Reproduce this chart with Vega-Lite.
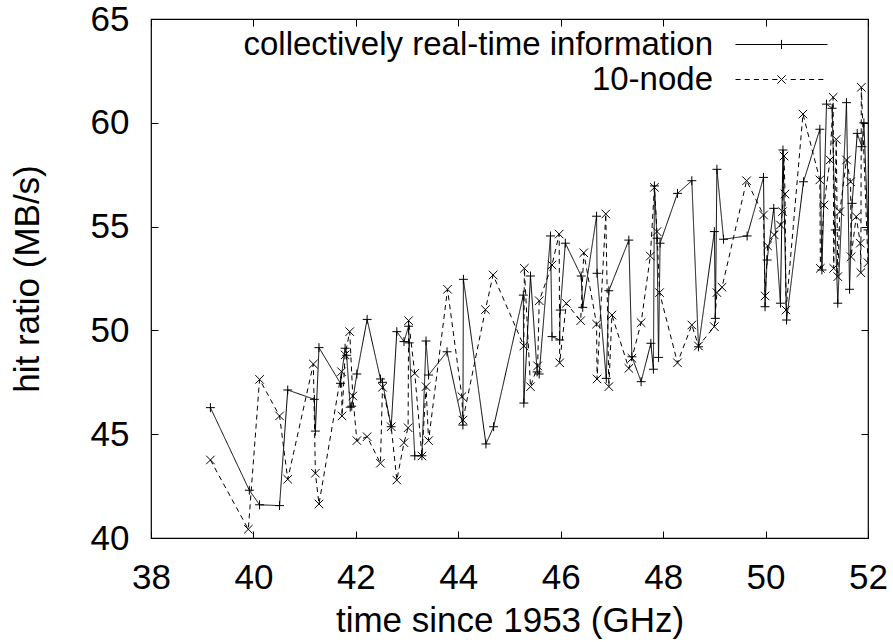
{
  "$schema": "https://vega.github.io/schema/vega-lite/v6.json",
  "autosize": "none",
  "width": 717,
  "height": 519,
  "padding": {"left": 151, "top": 19, "right": 25, "bottom": 104},
  "background": "white",
  "config": {
    "font": "Liberation Sans",
    "view": {"stroke": "black", "strokeWidth": 1.2},
    "axis": {"domain": false, "grid": false, "labelFont": "Liberation Sans", "labelFontSize": 35, "labelColor": "black", "titleFont": "Liberation Sans", "titleFontSize": 35, "titleFontWeight": "normal", "titleColor": "black", "tickColor": "black", "tickSize": 7, "tickWidth": 1, "offset": -7, "labelPadding": 22},
    "legend": {"title": null, "orient": "none", "padding": 0, "symbolSize": 8464, "symbolStrokeColor": "black", "symbolFillColor": "transparent", "symbolStrokeWidth": 1, "symbolOpacity": 1, "labelFont": "Liberation Sans", "labelFontSize": 33, "labelColor": "black", "labelAlign": "right", "labelOffset": -115, "labelLimit": 700}
  },
  "datasets": {
    "pts": [
      {"series": "collectively real-time information", "i": 1, "x": 39.16, "y": 46.28},
      {"series": "collectively real-time information", "i": 2, "x": 39.92, "y": 42.3},
      {"series": "collectively real-time information", "i": 3, "x": 40.12, "y": 41.6},
      {"series": "collectively real-time information", "i": 4, "x": 40.51, "y": 41.56},
      {"series": "collectively real-time information", "i": 5, "x": 40.67, "y": 47.13},
      {"series": "collectively real-time information", "i": 6, "x": 41.19, "y": 46.68},
      {"series": "collectively real-time information", "i": 7, "x": 41.21, "y": 45.15},
      {"series": "collectively real-time information", "i": 8, "x": 41.28, "y": 49.17},
      {"series": "collectively real-time information", "i": 9, "x": 41.7, "y": 47.45},
      {"series": "collectively real-time information", "i": 10, "x": 41.79, "y": 49.14},
      {"series": "collectively real-time information", "i": 11, "x": 41.82, "y": 48.8},
      {"series": "collectively real-time information", "i": 12, "x": 41.89, "y": 46.3},
      {"series": "collectively real-time information", "i": 13, "x": 41.92, "y": 46.35},
      {"series": "collectively real-time information", "i": 14, "x": 42.02, "y": 47.9},
      {"series": "collectively real-time information", "i": 15, "x": 42.22, "y": 50.53},
      {"series": "collectively real-time information", "i": 16, "x": 42.48, "y": 47.66},
      {"series": "collectively real-time information", "i": 17, "x": 42.52, "y": 47.5},
      {"series": "collectively real-time information", "i": 18, "x": 42.69, "y": 45.36},
      {"series": "collectively real-time information", "i": 19, "x": 42.8, "y": 49.94},
      {"series": "collectively real-time information", "i": 20, "x": 42.94, "y": 49.46},
      {"series": "collectively real-time information", "i": 21, "x": 43.03, "y": 50.2},
      {"series": "collectively real-time information", "i": 22, "x": 43.04, "y": 49.4},
      {"series": "collectively real-time information", "i": 23, "x": 43.15, "y": 43.96},
      {"series": "collectively real-time information", "i": 24, "x": 43.29, "y": 43.96},
      {"series": "collectively real-time information", "i": 25, "x": 43.37, "y": 49.49},
      {"series": "collectively real-time information", "i": 26, "x": 43.42, "y": 47.85},
      {"series": "collectively real-time information", "i": 27, "x": 43.78, "y": 48.97},
      {"series": "collectively real-time information", "i": 28, "x": 44.09, "y": 45.44},
      {"series": "collectively real-time information", "i": 29, "x": 44.1, "y": 52.46},
      {"series": "collectively real-time information", "i": 30, "x": 44.54, "y": 44.53},
      {"series": "collectively real-time information", "i": 31, "x": 44.69, "y": 45.36},
      {"series": "collectively real-time information", "i": 32, "x": 45.27, "y": 51.7},
      {"series": "collectively real-time information", "i": 33, "x": 45.28, "y": 46.5},
      {"series": "collectively real-time information", "i": 34, "x": 45.41, "y": 52.62},
      {"series": "collectively real-time information", "i": 35, "x": 45.54, "y": 48.0},
      {"series": "collectively real-time information", "i": 36, "x": 45.58, "y": 47.9},
      {"series": "collectively real-time information", "i": 37, "x": 45.8, "y": 54.55},
      {"series": "collectively real-time information", "i": 38, "x": 45.83, "y": 49.7},
      {"series": "collectively real-time information", "i": 39, "x": 45.98, "y": 49.54},
      {"series": "collectively real-time information", "i": 40, "x": 45.99, "y": 50.98},
      {"series": "collectively real-time information", "i": 41, "x": 46.09, "y": 54.2},
      {"series": "collectively real-time information", "i": 42, "x": 46.4, "y": 52.62},
      {"series": "collectively real-time information", "i": 43, "x": 46.43, "y": 51.11},
      {"series": "collectively real-time information", "i": 44, "x": 46.7, "y": 55.5},
      {"series": "collectively real-time information", "i": 45, "x": 46.71, "y": 52.75},
      {"series": "collectively real-time information", "i": 46, "x": 46.89, "y": 47.69},
      {"series": "collectively real-time information", "i": 47, "x": 46.94, "y": 51.91},
      {"series": "collectively real-time information", "i": 48, "x": 47.33, "y": 54.35},
      {"series": "collectively real-time information", "i": 49, "x": 47.39, "y": 48.73},
      {"series": "collectively real-time information", "i": 50, "x": 47.57, "y": 47.53},
      {"series": "collectively real-time information", "i": 51, "x": 47.76, "y": 49.38},
      {"series": "collectively real-time information", "i": 52, "x": 47.81, "y": 48.13},
      {"series": "collectively real-time information", "i": 53, "x": 47.83, "y": 56.96},
      {"series": "collectively real-time information", "i": 54, "x": 47.88, "y": 54.44},
      {"series": "collectively real-time information", "i": 55, "x": 47.91, "y": 48.7},
      {"series": "collectively real-time information", "i": 56, "x": 47.94, "y": 54.2},
      {"series": "collectively real-time information", "i": 57, "x": 48.28, "y": 56.6},
      {"series": "collectively real-time information", "i": 58, "x": 48.56, "y": 57.21},
      {"series": "collectively real-time information", "i": 59, "x": 48.69, "y": 49.21},
      {"series": "collectively real-time information", "i": 60, "x": 49.0, "y": 54.76},
      {"series": "collectively real-time information", "i": 61, "x": 49.02, "y": 50.58},
      {"series": "collectively real-time information", "i": 62, "x": 49.05, "y": 57.76},
      {"series": "collectively real-time information", "i": 63, "x": 49.18, "y": 54.39},
      {"series": "collectively real-time information", "i": 64, "x": 49.64, "y": 54.55},
      {"series": "collectively real-time information", "i": 65, "x": 49.96, "y": 57.37},
      {"series": "collectively real-time information", "i": 66, "x": 49.99, "y": 51.14},
      {"series": "collectively real-time information", "i": 67, "x": 50.03, "y": 53.39},
      {"series": "collectively real-time information", "i": 68, "x": 50.16, "y": 55.88},
      {"series": "collectively real-time information", "i": 69, "x": 50.29, "y": 51.31},
      {"series": "collectively real-time information", "i": 70, "x": 50.34, "y": 58.69},
      {"series": "collectively real-time information", "i": 71, "x": 50.41, "y": 50.5},
      {"series": "collectively real-time information", "i": 72, "x": 50.74, "y": 57.16},
      {"series": "collectively real-time information", "i": 73, "x": 51.06, "y": 59.69},
      {"series": "collectively real-time information", "i": 74, "x": 51.1, "y": 52.91},
      {"series": "collectively real-time information", "i": 75, "x": 51.19, "y": 60.9},
      {"series": "collectively real-time information", "i": 76, "x": 51.3, "y": 60.7},
      {"series": "collectively real-time information", "i": 77, "x": 51.36, "y": 54.84},
      {"series": "collectively real-time information", "i": 78, "x": 51.41, "y": 51.31},
      {"series": "collectively real-time information", "i": 79, "x": 51.58, "y": 60.97},
      {"series": "collectively real-time information", "i": 80, "x": 51.64, "y": 51.98},
      {"series": "collectively real-time information", "i": 81, "x": 51.69, "y": 56.12},
      {"series": "collectively real-time information", "i": 82, "x": 51.79, "y": 59.49},
      {"series": "collectively real-time information", "i": 83, "x": 51.88, "y": 58.85},
      {"series": "collectively real-time information", "i": 84, "x": 51.92, "y": 60.0},
      {"series": "collectively real-time information", "i": 85, "x": 52.0, "y": 54.84},
      {"series": "10-node", "i": 1, "x": 39.16, "y": 43.76},
      {"series": "10-node", "i": 2, "x": 39.9, "y": 40.42},
      {"series": "10-node", "i": 3, "x": 40.12, "y": 47.64},
      {"series": "10-node", "i": 4, "x": 40.51, "y": 45.88},
      {"series": "10-node", "i": 5, "x": 40.67, "y": 42.83},
      {"series": "10-node", "i": 6, "x": 41.17, "y": 48.38},
      {"series": "10-node", "i": 7, "x": 41.21, "y": 43.12},
      {"series": "10-node", "i": 8, "x": 41.28, "y": 41.64},
      {"series": "10-node", "i": 9, "x": 41.72, "y": 48.01},
      {"series": "10-node", "i": 10, "x": 41.73, "y": 45.88},
      {"series": "10-node", "i": 11, "x": 41.79, "y": 48.82},
      {"series": "10-node", "i": 12, "x": 41.88, "y": 49.94},
      {"series": "10-node", "i": 13, "x": 41.94, "y": 46.84},
      {"series": "10-node", "i": 14, "x": 42.02, "y": 44.69},
      {"series": "10-node", "i": 15, "x": 42.22, "y": 44.88},
      {"series": "10-node", "i": 16, "x": 42.48, "y": 43.6},
      {"series": "10-node", "i": 17, "x": 42.52, "y": 47.26},
      {"series": "10-node", "i": 18, "x": 42.69, "y": 45.36},
      {"series": "10-node", "i": 19, "x": 42.8, "y": 42.79},
      {"series": "10-node", "i": 20, "x": 42.94, "y": 44.59},
      {"series": "10-node", "i": 21, "x": 43.02, "y": 45.31},
      {"series": "10-node", "i": 22, "x": 43.03, "y": 50.47},
      {"series": "10-node", "i": 23, "x": 43.15, "y": 47.93},
      {"series": "10-node", "i": 24, "x": 43.29, "y": 43.95},
      {"series": "10-node", "i": 25, "x": 43.37, "y": 47.29},
      {"series": "10-node", "i": 26, "x": 43.42, "y": 44.69},
      {"series": "10-node", "i": 27, "x": 43.79, "y": 51.98},
      {"series": "10-node", "i": 28, "x": 44.07, "y": 46.81},
      {"series": "10-node", "i": 29, "x": 44.09, "y": 45.68},
      {"series": "10-node", "i": 30, "x": 44.53, "y": 51.0},
      {"series": "10-node", "i": 31, "x": 44.68, "y": 52.67},
      {"series": "10-node", "i": 32, "x": 45.28, "y": 49.25},
      {"series": "10-node", "i": 33, "x": 45.29, "y": 52.99},
      {"series": "10-node", "i": 34, "x": 45.41, "y": 47.29},
      {"series": "10-node", "i": 35, "x": 45.55, "y": 48.29},
      {"series": "10-node", "i": 36, "x": 45.58, "y": 51.43},
      {"series": "10-node", "i": 37, "x": 45.83, "y": 53.15},
      {"series": "10-node", "i": 38, "x": 45.97, "y": 54.64},
      {"series": "10-node", "i": 39, "x": 45.98, "y": 48.44},
      {"series": "10-node", "i": 40, "x": 46.11, "y": 51.3},
      {"series": "10-node", "i": 41, "x": 46.39, "y": 50.47},
      {"series": "10-node", "i": 42, "x": 46.45, "y": 53.74},
      {"series": "10-node", "i": 43, "x": 46.7, "y": 50.3},
      {"series": "10-node", "i": 44, "x": 46.71, "y": 47.66},
      {"series": "10-node", "i": 45, "x": 46.88, "y": 55.61},
      {"series": "10-node", "i": 46, "x": 46.94, "y": 47.29},
      {"series": "10-node", "i": 47, "x": 47.0, "y": 50.74},
      {"series": "10-node", "i": 48, "x": 47.33, "y": 48.17},
      {"series": "10-node", "i": 49, "x": 47.39, "y": 48.66},
      {"series": "10-node", "i": 50, "x": 47.57, "y": 50.37},
      {"series": "10-node", "i": 51, "x": 47.75, "y": 53.58},
      {"series": "10-node", "i": 52, "x": 47.83, "y": 56.89},
      {"series": "10-node", "i": 53, "x": 47.88, "y": 54.76},
      {"series": "10-node", "i": 54, "x": 47.93, "y": 51.82},
      {"series": "10-node", "i": 55, "x": 48.28, "y": 48.44},
      {"series": "10-node", "i": 56, "x": 48.56, "y": 50.26},
      {"series": "10-node", "i": 57, "x": 48.69, "y": 49.25},
      {"series": "10-node", "i": 58, "x": 49.0, "y": 50.18},
      {"series": "10-node", "i": 59, "x": 49.05, "y": 51.82},
      {"series": "10-node", "i": 60, "x": 49.15, "y": 52.08},
      {"series": "10-node", "i": 61, "x": 49.63, "y": 57.21},
      {"series": "10-node", "i": 62, "x": 49.96, "y": 55.56},
      {"series": "10-node", "i": 63, "x": 49.99, "y": 51.66},
      {"series": "10-node", "i": 64, "x": 50.04, "y": 54.07},
      {"series": "10-node", "i": 65, "x": 50.17, "y": 54.6},
      {"series": "10-node", "i": 66, "x": 50.29, "y": 55.08},
      {"series": "10-node", "i": 67, "x": 50.33, "y": 55.72},
      {"series": "10-node", "i": 68, "x": 50.36, "y": 58.4},
      {"series": "10-node", "i": 69, "x": 50.38, "y": 56.57},
      {"series": "10-node", "i": 70, "x": 50.4, "y": 50.98},
      {"series": "10-node", "i": 71, "x": 50.73, "y": 60.42},
      {"series": "10-node", "i": 72, "x": 51.06, "y": 57.25},
      {"series": "10-node", "i": 73, "x": 51.07, "y": 52.99},
      {"series": "10-node", "i": 74, "x": 51.14, "y": 56.04},
      {"series": "10-node", "i": 75, "x": 51.26, "y": 58.21},
      {"series": "10-node", "i": 76, "x": 51.32, "y": 61.23},
      {"series": "10-node", "i": 77, "x": 51.33, "y": 52.99},
      {"series": "10-node", "i": 78, "x": 51.38, "y": 59.2},
      {"series": "10-node", "i": 79, "x": 51.41, "y": 52.59},
      {"series": "10-node", "i": 80, "x": 51.45, "y": 55.72},
      {"series": "10-node", "i": 81, "x": 51.58, "y": 58.21},
      {"series": "10-node", "i": 82, "x": 51.66, "y": 57.16},
      {"series": "10-node", "i": 83, "x": 51.67, "y": 53.55},
      {"series": "10-node", "i": 84, "x": 51.77, "y": 55.48},
      {"series": "10-node", "i": 85, "x": 51.85, "y": 54.2},
      {"series": "10-node", "i": 86, "x": 51.86, "y": 52.78},
      {"series": "10-node", "i": 87, "x": 51.87, "y": 61.71},
      {"series": "10-node", "i": 88, "x": 52.0, "y": 53.26}
    ]
  },
  "data": {"name": "pts"},
  "resolve": {
    "scale": {"shape": "independent"},
    "legend": {"shape": "independent"},
    "axis": {"x": "independent", "y": "independent"}
  },
  "layer": [
    {
      "mark": {"type": "line", "color": "black", "strokeWidth": 1, "clip": true},
      "encoding": {
        "x": {"field": "x", "type": "quantitative", "scale": {"domain": [38, 52], "nice": false, "zero": false},
          "axis": {"orient": "bottom", "values": [38, 40, 42, 44, 46, 48, 50, 52], "title": "time since 1953 (GHz)", "titlePadding": 8, "labelFlush": false}},
        "y": {"field": "y", "type": "quantitative", "scale": {"domain": [40, 65], "nice": false, "zero": false},
          "axis": {"orient": "left", "values": [40, 45, 50, 55, 60, 65], "title": "hit ratio (MB/s)", "titlePadding": 45, "labelFlush": false}},
        "detail": {"field": "series"},
        "order": {"field": "i", "type": "quantitative"},
        "strokeDash": {"field": "series", "type": "nominal",
          "scale": {"domain": ["collectively real-time information", "10-node"], "range": [[1, 0], [5, 4]]},
          "legend": null}
      }
    },
    {
      "mark": {"type": "point", "color": "black", "filled": false, "strokeWidth": 1, "size": 80, "opacity": 1, "clip": true},
      "encoding": {
        "x": {"field": "x", "type": "quantitative", "axis": null},
        "y": {"field": "y", "type": "quantitative", "axis": null},
        "shape": {"field": "series", "type": "nominal",
          "scale": {"domain": ["collectively real-time information", "10-node"], "range": ["M-1,0H1M0,-1V1", "M-0.95,-0.95L0.95,0.95M-0.95,0.95L0.95,-0.95"]},
          "legend": null}
      }
    },
    {
      "mark": {"type": "point", "color": "black", "filled": false, "strokeWidth": 1, "opacity": 0},
      "encoding": {
        "x": {"field": "x", "type": "quantitative",
          "axis": {"orient": "top", "values": [38, 40, 42, 44, 46, 48, 50, 52], "labels": false, "title": null}},
        "y": {"field": "y", "type": "quantitative",
          "axis": {"orient": "right", "values": [40, 45, 50, 55, 60, 65], "labels": false, "title": null}},
        "shape": {"field": "series", "type": "nominal",
          "scale": {"domain": ["collectively real-time information", "10-node"], "range": [
            "M-1,0H1M0,-0.1V0.1M-0.1,0H0.1",
            "M-1,0H-0.89M-0.8,0H-0.69M-0.6,0H-0.49M-0.4,0H-0.29M-0.2,0H-0.09M0.09,0H0.11M0.2,0H0.31M0.4,0H0.51M0.6,0H0.71M0.8,0H0.91M-0.09,-0.09L0.09,0.09M-0.09,0.09L0.09,-0.09"
          ]},
          "legend": {"values": ["collectively real-time information"], "legendX": 584, "legendY": -21}
        }
      }
    },
    {
      "mark": {"type": "point", "color": "black", "filled": false, "strokeWidth": 1, "opacity": 0},
      "encoding": {
        "x": {"field": "x", "type": "quantitative", "axis": null},
        "y": {"field": "y", "type": "quantitative", "axis": null},
        "shape": {"field": "series", "type": "nominal",
          "scale": {"domain": ["collectively real-time information", "10-node"], "range": [
            "M-1,0H1M0,-0.1V0.1M-0.1,0H0.1",
            "M-1,0H-0.89M-0.8,0H-0.69M-0.6,0H-0.49M-0.4,0H-0.29M-0.2,0H-0.09M0.09,0H0.11M0.2,0H0.31M0.4,0H0.51M0.6,0H0.71M0.8,0H0.91M-0.09,-0.09L0.09,0.09M-0.09,0.09L0.09,-0.09"
          ]},
          "legend": {"values": ["10-node"], "legendX": 584, "legendY": 14}
        }
      }
    }
  ]
}
